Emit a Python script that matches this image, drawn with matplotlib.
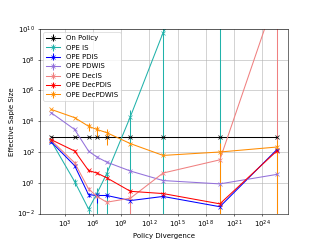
import numpy as np
import matplotlib
matplotlib.use("Agg")
import matplotlib.pyplot as plt

# policy divergence of each experiment
divergence = [3.4e1, 1.05e4, 3.2e5, 2.5e6, 2.8e7, 9.3e9, 2.8e13, 3.2e19, 3.7e25]

# effective sample size (mean, std) for each estimator
on_policy = [1000, 1000, 1000, 1000, 1000, 1000, 1000, 1000, 1000]
on_policy_err = [60, 60, 60, 60, 60, 60, 60, 60, 60]

ope_is = [500, 1.2, 0.02, 0.2, 4, 2e4, 5.5e9, 1e16, 1e20]
ope_is_err = [100, 0.6, 0.01, 0.25, 6, 3e4, 1e10, 2e16, 0]

ope_pdis = [450, 13, 0.17, 0.15, 0.15, 0.07, 0.13, 0.028, 140]
ope_pdis_err = [50, 3, 0.05, 0.1, 0.05, 0.02, 0.03, 0.005, 20]

ope_pdwis = [3.5e4, 2900, 115, 47, 22, 5.8, 1.4, 0.85, 3.5]
ope_pdwis_err = [3e3, 300, 10, 5, 3, 0.6, 0.2, 0.1, 0.5]

ope_decis = [570, 20, 0.4, 0.13, 0.055, 0.1, 4.3, 31, 2e12]
ope_decis_err = [80, 5, 0.1, 0.03, 0.01, 0.2, 1, 5, 4e12]

ope_decpdis = [630, 115, 6.3, 4.3, 2.1, 0.28, 0.2, 0.043, 115]
ope_decpdis_err = [60, 15, 1, 0.6, 0.3, 0.05, 0.04, 0.008, 20]

ope_decpdwis = [5.8e4, 1.7e4, 4700, 2900, 1800, 350, 60, 100, 210]
ope_decpdwis_err = [4e3, 2e3, 2500, 2000, 1500, 30, 8, 300, 400]


def main():
    fig, ax = plt.subplots(figsize=(6.4, 4.8), dpi=50)

    series = [
        (on_policy, on_policy_err, 'black', 'On Policy'),
        (ope_is, ope_is_err, 'lightseagreen', 'OPE IS'),
        (ope_pdis, ope_pdis_err, 'blue', 'OPE PDIS'),
        (ope_pdwis, ope_pdwis_err, 'mediumpurple', 'OPE PDWIS'),
        (ope_decis, ope_decis_err, 'lightcoral', 'OPE DecIS'),
        (ope_decpdis, ope_decpdis_err, 'red', 'OPE DecPDIS'),
        (ope_decpdwis, ope_decpdwis_err, 'darkorange', 'OPE DecPDWIS'),
    ]
    for values, errors, color, label in series:
        ax.errorbar(divergence, values, yerr=errors, color=color, marker='x', label=label)

    ax.set_xscale('log')
    ax.set_yscale('log')
    ax.set_ylim(1e-2, 1e10)
    ax.set_xticks([1e3, 1e6, 1e9, 1e12, 1e15, 1e18, 1e21, 1e24])
    ax.set_yticks([1e-2, 1e0, 1e2, 1e4, 1e6, 1e8, 1e10])
    ax.minorticks_off()
    ax.set_xlabel('Policy Divergence')
    ax.set_ylabel('Effective Saple Size')
    ax.legend(loc='upper left')
    ax.grid()

    fig.savefig('out.png')


if __name__ == "__main__":
    main()
